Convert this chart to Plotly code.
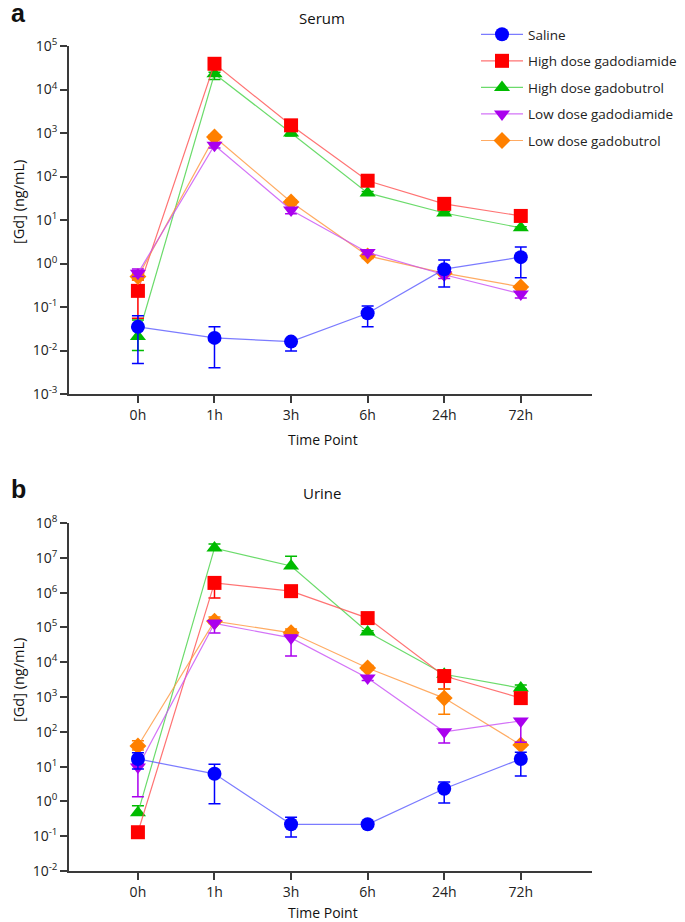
import plotly.graph_objects as go

# The page body has an 8px margin, so the figure is sized to fill the rest of the
# 685x922 window and reference pixel positions are shifted by that offset.
OFF = 8
W, H = 685 - OFF, 922 - OFF
FONT = "Open Sans"


def px(x):
    return (x - OFF) / W


def py(y):
    return 1 - (y - OFF) / H


time_points = ["0h", "1h", "3h", "6h", "24h", "72h"]
series_names = ["Saline", "High dose gadodiamide", "High dose gadobutrol",
                "Low dose gadodiamide", "Low dose gadobutrol"]

# ---- Serum (panel a) ----
serum_saline = [0.035, 0.0195, 0.016, 0.072, 0.74, 1.4]
serum_saline_hi = [0.063, 0.035, 0.018, 0.106, 1.2, 2.4]
serum_saline_lo = [0.005, 0.004, 0.0098, 0.035, 0.29, 0.47]

serum_hd_gdd = [0.235, 39000, 1500, 80, 23.5, 12.4]
serum_hd_gdd_hi = [0.42, 42000, 1600, 85, 25, 13]
serum_hd_gdd_lo = [0.055, 36000, 1400, 75, 22, 11.8]

serum_hd_gdb = [0.021, 23000, 1000, 42, 14.5, 6.6]
serum_hd_gdb_hi = [0.05, 25000, 1100, 45, 15.5, 7.0]
serum_hd_gdb_lo = [0.010, 17000, 850, 39, 13.5, 6.2]

serum_ld_gdd = [0.6, 525, 17, 1.8, 0.55, 0.20]
serum_ld_gdd_hi = [0.75, 600, 19, 1.9, 0.6, 0.22]
serum_ld_gdd_lo = [0.5, 450, 14, 1.6, 0.45, 0.16]

serum_ld_gdb = [0.5, 810, 26, 1.5, 0.6, 0.29]
serum_ld_gdb_hi = [0.6, 900, 29, 1.6, 0.65, 0.31]
serum_ld_gdb_lo = [0.42, 720, 23, 1.3, 0.55, 0.26]

# ---- Urine (panel b) ----
urine_saline = [16.6, 6.2, 0.22, 0.22, 2.3, 16.5]
urine_saline_hi = [25, 11.7, 0.35, 0.23, 3.6, 26]
urine_saline_lo = [8.5, 0.85, 0.095, 0.21, 0.9, 5.4]

urine_hd_gdd = [0.13, 1.9e6, 1.1e6, 1.85e5, 4000, 930]
urine_hd_gdd_hi = [0.14, 2.1e6, 1.2e6, 2.0e5, 4400, 1000]
urine_hd_gdd_lo = [0.12, 7e5, 1.0e6, 1.7e5, 1700, 850]

urine_hd_gdb = [0.47, 1.9e7, 5.8e6, 7.4e4, 4500, 1800]
urine_hd_gdb_hi = [0.75, 2.5e7, 1.1e7, 8e4, 5000, 2200]
urine_hd_gdb_lo = [0.40, 1.7e7, 5.0e6, 7e4, 4000, 1700]

urine_ld_gdd = [9.8, 1.3e5, 5e4, 3500, 100, 205]
urine_ld_gdd_hi = [12, 1.6e5, 6e4, 4000, 110, 230]
urine_ld_gdd_lo = [1.35, 6.9e4, 1.5e4, 3000, 48, 50]

urine_ld_gdb = [39, 1.5e5, 7e4, 6800, 930, 42]
urine_ld_gdb_hi = [55, 2.0e5, 9e4, 8000, 1700, 50]
urine_ld_gdb_lo = [30, 1.3e5, 6e4, 6000, 320, 38]

serum_tickvals = [1e-3, 1e-2, 1e-1, 1e0, 1e1, 1e2, 1e3, 1e4, 1e5]
serum_ticktext = ["10<sup>-3</sup>", "10<sup>-2</sup>", "10<sup>-1</sup>", "10<sup>0</sup>",
                  "10<sup>1</sup>", "10<sup>2</sup>", "10<sup>3</sup>", "10<sup>4</sup>",
                  "10<sup>5</sup>"]
urine_tickvals = [1e-2, 1e-1, 1e0, 1e1, 1e2, 1e3, 1e4, 1e5, 1e6, 1e7, 1e8]
urine_ticktext = ["10<sup>-2</sup>", "10<sup>-1</sup>", "10<sup>0</sup>", "10<sup>1</sup>",
                  "10<sup>2</sup>", "10<sup>3</sup>", "10<sup>4</sup>", "10<sup>5</sup>",
                  "10<sup>6</sup>", "10<sup>7</sup>", "10<sup>8</sup>"]

marker_colors = ["#0000ff", "#ff0000", "#00bb00", "#aa00ee", "#ff8000"]
line_colors = ["rgba(90,90,255,0.8)", "rgba(255,80,80,0.8)", "rgba(70,210,70,0.8)",
               "rgba(200,80,245,0.8)", "rgba(255,150,60,0.8)"]
symbols = ["circle", "square", "triangle-up", "triangle-down", "diamond"]
sizes = [14, 14, 14, 14, 13]

serum = [(serum_saline, serum_saline_hi, serum_saline_lo),
         (serum_hd_gdd, serum_hd_gdd_hi, serum_hd_gdd_lo),
         (serum_hd_gdb, serum_hd_gdb_hi, serum_hd_gdb_lo),
         (serum_ld_gdd, serum_ld_gdd_hi, serum_ld_gdd_lo),
         (serum_ld_gdb, serum_ld_gdb_hi, serum_ld_gdb_lo)]
urine = [(urine_saline, urine_saline_hi, urine_saline_lo),
         (urine_hd_gdd, urine_hd_gdd_hi, urine_hd_gdd_lo),
         (urine_hd_gdb, urine_hd_gdb_hi, urine_hd_gdb_lo),
         (urine_ld_gdd, urine_ld_gdd_hi, urine_ld_gdd_lo),
         (urine_ld_gdb, urine_ld_gdb_hi, urine_ld_gdb_lo)]

fig = go.Figure()

order = [2, 1, 4, 3, 0]
for panel, data, xa, ya in [(0, serum, "x", "y"), (1, urine, "x2", "y2")]:
    for i in order:
        v, hi, lo = data[i]
        fig.add_trace(go.Scatter(
            x=time_points, y=v, xaxis=xa, yaxis=ya,
            mode="lines+markers", name=series_names[i],
            legendgroup=series_names[i], legendrank=i + 1,
            showlegend=(panel == 0),
            line=dict(color=line_colors[i], width=1.2),
            marker=dict(color=marker_colors[i], symbol=symbols[i], size=sizes[i],
                        line=dict(width=0)),
            error_y=dict(type="data", symmetric=False,
                         array=[h - a for h, a in zip(hi, v)],
                         arrayminus=[a - l for a, l in zip(v, lo)],
                         color=marker_colors[i], thickness=1.5, width=6),
        ))

x_dom = [px(69), px(592)]
ya_dom = [py(394), py(46)]
yb_dom = [py(871), py(523)]

axis_common = dict(showline=True, linecolor="#3a3a3a", linewidth=1.5, ticks="outside",
                   ticklen=7, tickwidth=1.5, tickcolor="#3a3a3a", showgrid=False,
                   zeroline=False, automargin=False,
                   tickfont=dict(family=FONT, size=14, color="#222"))

fig.update_layout(
    width=W, height=H, margin=dict(l=0, r=0, t=0, b=0, autoexpand=False),
    paper_bgcolor="white", plot_bgcolor="white",
    font=dict(family=FONT, color="#222"),
    xaxis=dict(domain=x_dom, anchor="y", type="category", range=[-0.9, 5.93], **axis_common),
    yaxis=dict(domain=ya_dom, anchor="x", type="log", range=[-3, 5],
               tickvals=serum_tickvals, ticktext=serum_ticktext, **axis_common),
    xaxis2=dict(domain=x_dom, anchor="y2", type="category", range=[-0.9, 5.93], **axis_common),
    yaxis2=dict(domain=yb_dom, anchor="x2", type="log", range=[-2, 8],
                tickvals=urine_tickvals, ticktext=urine_ticktext, **axis_common),
    legend=dict(x=px(476), y=py(19), xanchor="left", yanchor="top",
                font=dict(family=FONT, size=13.5, color="#222"), itemwidth=42,
                bgcolor="rgba(0,0,0,0)", traceorder="grouped", tracegroupgap=6),
    showlegend=True,
)

ann = [
    dict(text="<b>a</b>", x=px(9), y=py(13), xanchor="left", size=25),
    dict(text="Serum", x=px(322), y=py(18), xanchor="center", size=15),
    dict(text="Time Point", x=px(323), y=py(439), xanchor="center", size=14),
    dict(text="<b>b</b>", x=px(9), y=py(489), xanchor="left", size=25),
    dict(text="Urine", x=px(322), y=py(493), xanchor="center", size=15),
    dict(text="Time Point", x=px(323), y=py(912), xanchor="center", size=14),
]
for a in ann:
    fam = "Liberation Sans" if a["text"].startswith("<b>") else FONT
    fig.add_annotation(text=a["text"], x=a["x"], y=a["y"], xref="paper", yref="paper",
                       xanchor=a["xanchor"], yanchor="middle", showarrow=False,
                       font=dict(family=fam, size=a["size"], color="#111"))
for yc in [202, 680]:
    fig.add_annotation(text="[Gd] (ng/mL)", x=px(18), y=py(yc), xref="paper", yref="paper",
                       xanchor="center", yanchor="middle", textangle=-90, showarrow=False,
                       font=dict(family=FONT, size=14.5, color="#111"))

fig.write_html("out.html")
